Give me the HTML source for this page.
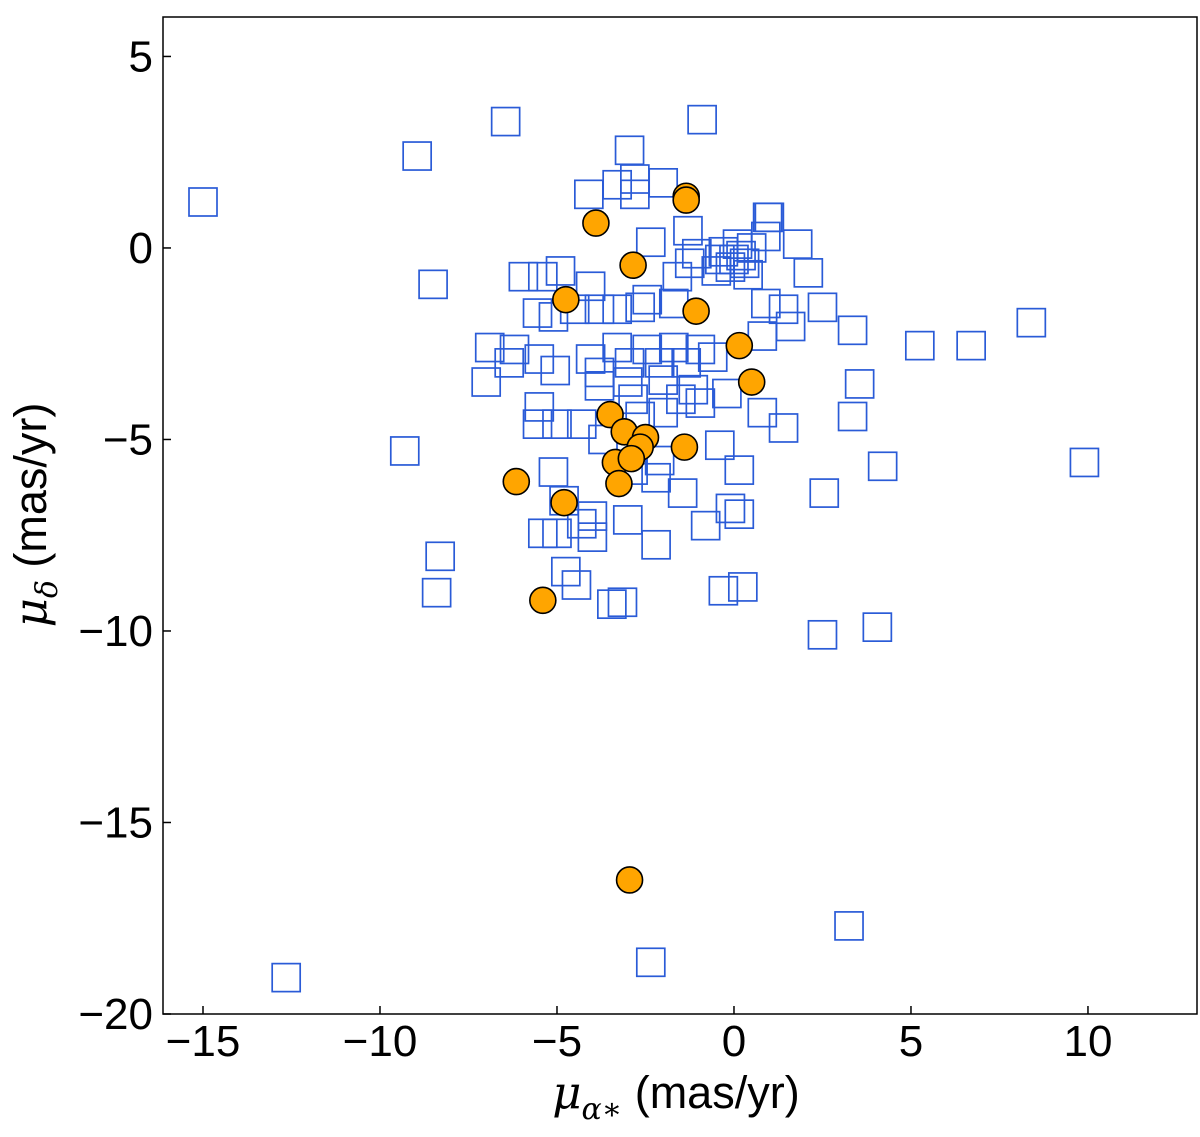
<!DOCTYPE html>
<html><head><meta charset="utf-8">
<style>
html,body{margin:0;padding:0;background:#fff;}
svg{display:block;font-family:"Liberation Sans","DejaVu Sans",sans-serif;}
</style></head>
<body>
<svg id="chart" width="1200" height="1137" viewBox="0 0 1200 1137" xmlns="http://www.w3.org/2000/svg">
<g id="squares"></g>
<g id="circles"></g>
<rect x="163" y="17" width="1034" height="997" fill="none" stroke="#000" stroke-width="1.5"/>
<g id="xticks"></g>
<g id="yticks"></g>
<text x="676" y="1108" font-size="45" text-anchor="middle"><tspan font-style="italic" font-family="DejaVu Serif, serif">μ</tspan><tspan font-size="30" dy="11" font-style="italic" font-family="DejaVu Serif, serif">α∗</tspan><tspan dy="-11"> (mas/yr)</tspan></text>
<text transform="translate(46,515) rotate(-90)" font-size="45" text-anchor="middle"><tspan font-style="italic" font-family="DejaVu Serif, serif">μ</tspan><tspan font-size="30" dy="11" font-style="italic" font-family="DejaVu Serif, serif">δ</tspan><tspan dy="-11"> (mas/yr)</tspan></text>
</svg>
<script>
const xTicks=[-15,-10,-5,0,5,10];
const yTicks=[5,0,-5,-10,-15,-20];
const sqX=[-15,-12.65,-8.95,-8.5,-9.3,-8.3,-8.4,-6.45,-0.9,-2.95,8.4,6.7,5.25,9.9,4.2,2.55,3.35,3.55,3.35,2.5,4.05,3.25,-2.35,0.25,-0.3,-3.45,-3.15,-4.75,-4.45,-2.2,-3.0,-0.8,-0.1,0.15,1.4,2.5,1.8,0.95,0.15,-0.4,1.4,0.8,-1.05,
-4.1,-3.3,-2.8,-2.8,-2.0,1.0,-2.35,-1.3,-1.25,-1.6,-0.3,0,0.2,-0.1,0.3,-0.4,0.5,0.1,-0.5,0.4,2.1,0.9,
-5.95,-4.9,-5.4,-4.05,-5.55,-5.1,-4.5,-3.8,-3.3,-2.65,-2.45,-1.7,0.9,1.6,0.8,
-6.9,-6.2,-7.0,-6.35,-5.5,-5.05,-4.05,-3.8,-3.3,-2.95,-2.45,-2.1,-1.7,-1.35,-0.95,-0.6,-0.2,-1.15,-2.0,-3.0,-3.8,
-5.5,-5.55,-5.0,-4.3,-3.7,-2.85,-2.65,-2.0,-1.5,-0.95,
-5.1,-2.1,-2.2,-1.45,-2.85,-5.4,-5.0,-4.3,-4.0,-4.0,-4.8];
const sqY=[1.2,-19.05,2.4,-0.95,-5.3,-8.05,-9.0,3.3,3.35,2.55,-1.95,-2.55,-2.55,-5.6,-5.7,-6.4,-4.4,-3.55,-2.15,-10.1,-9.9,-17.7,-18.65,-8.85,-8.95,-9.3,-9.25,-8.45,-8.8,-7.75,-7.1,-7.25,-6.8,-6.95,-1.6,-1.55,0.1,0.8,-5.8,-5.15,-4.7,-4.3,-0.15,
1.4,1.65,1.8,1.4,1.7,0.8,0.15,0.45,-0.4,-0.75,-0.1,-0.3,-0.2,-0.5,-0.4,-0.3,0,0.1,-0.6,-0.7,-0.65,0.3,
-0.75,-0.6,-0.75,-1.0,-1.7,-1.8,-1.6,-1.6,-1.6,-1.55,-1.35,-1.45,-1.45,-2.05,-2.3,
-2.6,-2.65,-3.5,-3.0,-2.9,-3.2,-2.9,-3.25,-2.6,-3.0,-2.65,-3.0,-2.6,-3.0,-2.65,-2.85,-3.8,-3.7,-3.45,-3.5,-3.6,
-4.15,-4.6,-4.6,-4.6,-5.0,-3.95,-4.4,-4.3,-3.95,-4.05,
-5.85,-5.55,-6.0,-6.4,-5.8,-7.45,-7.45,-7.2,-7.0,-7.55,-6.6];
const cX=[-1.35,-1.35,-3.9,-2.85,-4.75,-1.07,0.15,0.5,-3.5,-3.1,-2.5,-2.65,-1.4,-3.35,-2.9,-3.25,-6.15,-4.8,-5.4,-2.95];
const cY=[1.35,1.25,0.65,-0.45,-1.35,-1.65,-2.55,-3.5,-4.35,-4.8,-4.95,-5.2,-5.2,-5.6,-5.5,-6.15,-6.1,-6.65,-9.2,-16.5];
const NS="http://www.w3.org/2000/svg";
const L=163,R=1197,T=17,B=1014,xmin=-16.13,xmax=13.08,ymin=-20,ymax=6.03;
function sx(v){return L+(v-xmin)/(xmax-xmin)*(R-L);}
function sy(v){return B-(v-ymin)/(ymax-ymin)*(B-T);}
function mk(tag,attrs,parent){const e=document.createElementNS(NS,tag);for(const k in attrs)e.setAttribute(k,attrs[k]);parent.appendChild(e);return e;}
const gs=document.getElementById('squares');
for(let i=0;i<sqX.length;i++){
  const r=mk('rect',{x:sx(sqX[i])-14,y:sy(sqY[i])-14,width:28,height:28,fill:'none',stroke:'#2a5bd7','stroke-width':1.7},gs);
  
  
}
const gc=document.getElementById('circles');
for(let i=0;i<cX.length;i++){
  const c=mk('circle',{cx:sx(cX[i]),cy:sy(cY[i]),r:13,fill:'#ffa500',stroke:'#000','stroke-width':1.6},gc);
  
  
}
const gx=document.getElementById('xticks');
xTicks.forEach(v=>{
  const x=sx(v);
  const l=mk('line',{x1:x,x2:x,y1:B,y2:B-8,stroke:'#000','stroke-width':1.5},gx);
  
  
  const t=mk('text',{x:x,y:1056,'font-size':44,'text-anchor':'middle'},gx);
  t.textContent=(v<0?'\u2212':'')+Math.abs(v);
  
  
});
const gy=document.getElementById('yticks');
yTicks.forEach(v=>{
  const y=sy(v);
  const l=mk('line',{x1:L,x2:L+8,y1:y,y2:y,stroke:'#000','stroke-width':1.5},gy);
  
  
  const t=mk('text',{x:153,y:y+15,'font-size':44,'text-anchor':'end'},gy);
  t.textContent=(v<0?'\u2212':'')+Math.abs(v);
  
  
});
</script>
</body></html>
